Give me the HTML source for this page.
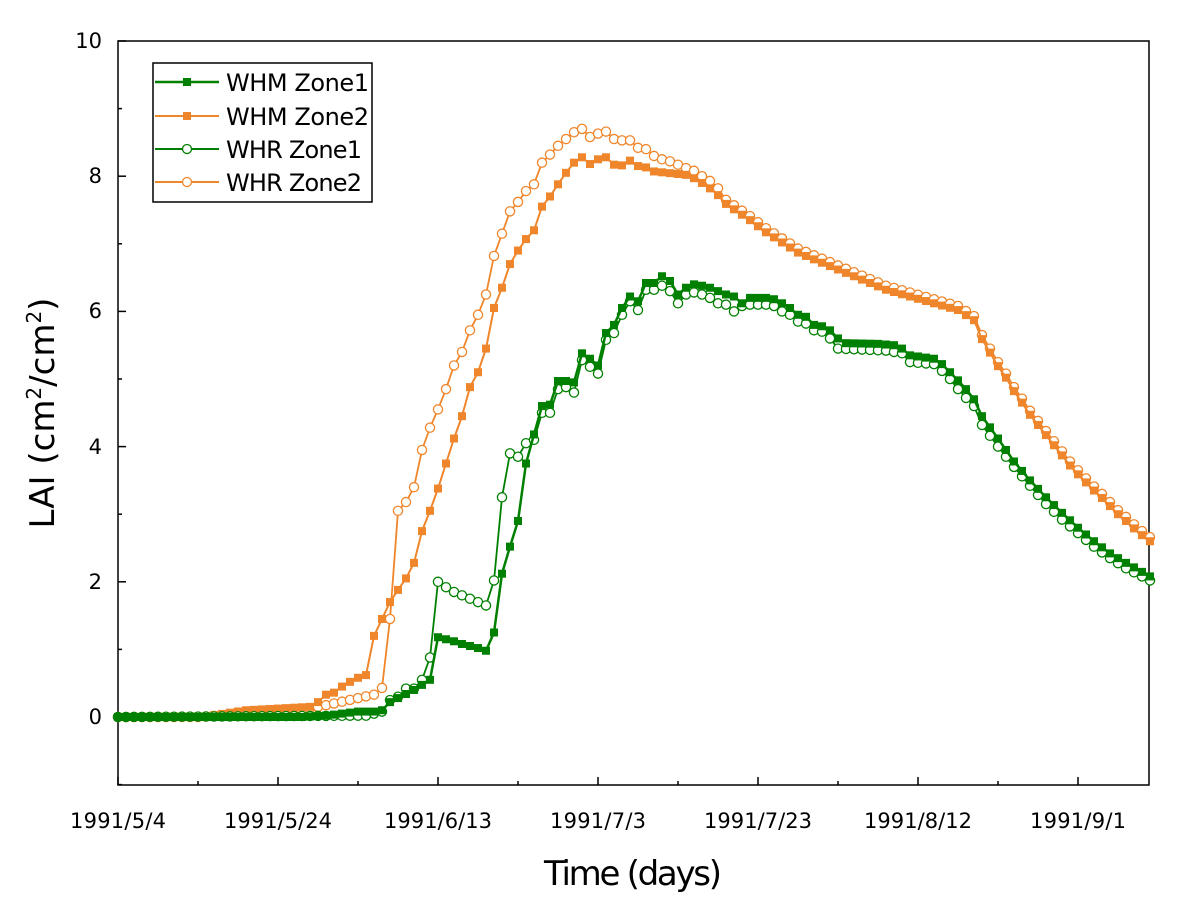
<!DOCTYPE html>
<html><head><meta charset="utf-8"><style>
body{margin:0;background:#fff}
svg text{font-family:"DejaVu Sans","Liberation Sans",sans-serif;fill:#000}
</style></head><body>
<svg id="s" width="1182" height="903" xmlns="http://www.w3.org/2000/svg">
<rect x="118" y="41" width="1031" height="744" fill="none" stroke="#000" stroke-width="1.5"/>
<g id="ticks" stroke="#000" stroke-width="1.5"></g>
<g font-size="21">
<text x="102" y="724" text-anchor="end">0</text>
<text x="102" y="589" text-anchor="end">2</text>
<text x="102" y="454" text-anchor="end">4</text>
<text x="102" y="318" text-anchor="end">6</text>
<text x="102" y="183" text-anchor="end">8</text>
<text x="102" y="48" text-anchor="end">10</text>
<text x="118" y="828" text-anchor="middle" textLength="96">1991/5/4</text>
<text x="278" y="828" text-anchor="middle" textLength="108">1991/5/24</text>
<text x="438" y="828" text-anchor="middle" textLength="108">1991/6/13</text>
<text x="598" y="828" text-anchor="middle" textLength="96">1991/7/3</text>
<text x="758" y="828" text-anchor="middle" textLength="108">1991/7/23</text>
<text x="918" y="828" text-anchor="middle" textLength="108">1991/8/12</text>
<text x="1078" y="828" text-anchor="middle" textLength="96">1991/9/1</text>
</g>
<text x="633" y="885" text-anchor="middle" font-size="34" textLength="178">Time (days)</text>
<text transform="translate(54,413) rotate(-90)" text-anchor="middle" font-size="34">LAI (cm<tspan font-size="20" dy="-13">2</tspan><tspan dy="13">/cm</tspan><tspan font-size="20" dy="-13">2</tspan><tspan dy="13">)</tspan></text>
<g id="plot"></g>
<rect x="153" y="63" width="219" height="139" fill="#fff" stroke="#000" stroke-width="1.5"/>
<line x1="155" y1="82" x2="219" y2="82" stroke="#008000" stroke-width="2.5"/><rect x="183" y="78" width="8" height="8" fill="#008000"/>
<line x1="155" y1="116" x2="219" y2="116" stroke="#f0862b" stroke-width="2"/><rect x="183" y="112" width="8" height="8" fill="#f0862b"/>
<line x1="155" y1="149" x2="219" y2="149" stroke="#008000" stroke-width="2"/><circle cx="187" cy="149" r="4.5" fill="#fff" stroke="#008000" stroke-width="1.3"/>
<line x1="155" y1="182" x2="219" y2="182" stroke="#f0862b" stroke-width="2"/><circle cx="187" cy="182" r="4.5" fill="#fff" stroke="#f0862b" stroke-width="1.3"/>
<g font-size="24">
<text x="226" y="91" textLength="143">WHM Zone1</text>
<text x="226" y="125" textLength="143">WHM Zone2</text>
<text x="226" y="158" textLength="136">WHR Zone1</text>
<text x="226" y="191" textLength="136">WHR Zone2</text>
</g>
</svg>
<script>
function X(d){return 118+8*d}function Y(v){return 717-67.6*v}
var t=document.getElementById("ticks"),h="";
for(var v=-1;v<=10;v++){var y=Y(v),L=(v%2==0)?8:4;h+='<line x1="118" y1="'+y+'" x2="'+(118+L)+'" y2="'+y+'"/>';}
for(var d=0;d<=128;d+=10){var x=X(d),L=(d%20==0)?8:4;h+='<line x1="'+x+'" y1="785" x2="'+x+'" y2="'+(785-L)+'"/>';}
t.innerHTML=h;
function sh(k,lo,hi){return k.map(function(p){return (p[0]>=lo&&p[0]<=hi)?[p[0]+1,p[1]]:p;});}
function interp(k){var o=[];for(var d=0;d<=129;d++){var i=0;while(i<k.length-2&&k[i+1][0]<=d)i++;var a=k[i],b=k[i+1];var f=(d-a[0])/(b[0]-a[0]);if(f<0)f=0;if(f>1)f=1;o.push(a[1]+(b[1]-a[1])*f);}return o;}
var decl2=[[76,7.62],[79,7.38],[81,7.2],[83,7.05],[85,6.9],[88,6.75],[91,6.6],[94,6.45],[96,6.35],[99,6.25],[102,6.15],[105,6.05],[107,5.9],[108,5.62],[109,5.42],[110,5.22],[111,5.05],[112,4.85],[113,4.68],[114,4.5],[115,4.35],[116,4.2],[117,4.05],[118,3.9],[119,3.75],[120,3.62],[121,3.5],[122,3.38],[123,3.27],[124,3.15],[125,3.03],[126,2.93],[127,2.82],[128,2.72],[129,2.63]];
var m2=sh([[0,0],[11,0.01],[16,0.1],[23,0.15],[24,0.22],[25,0.33],[26,0.36],[27,0.45],[28,0.52],[29,0.58],[30,0.62],[31,1.2],[32,1.45],[33,1.7],[34,1.88],[35,2.05],[36,2.28],[37,2.75],[38,3.05],[39,3.38],[40,3.75],[41,4.12],[42,4.45],[43,4.88],[44,5.1],[45,5.45],[46,6.05],[47,6.35],[48,6.7],[49,6.9],[50,7.07],[51,7.2],[52,7.55],[53,7.7],[54,7.88],[55,8.05],[56,8.2],[57,8.28],[58,8.18],[59,8.25],[60,8.28],[61,8.17],[62,8.16],[63,8.23],[64,8.15],[65,8.13],[66,8.07],[70,8.02],[71,7.97],[72,7.9],[73,7.82],[74,7.72]],20,74).concat(decl2.map(function(p){return [p[0],p[1]-0.03]}));
var r2=sh([[0,0],[10,0],[15,0.04],[22,0.1],[26,0.2],[29,0.28],[31,0.33],[32,0.43],[33,1.45],[34,3.05],[35,3.18],[36,3.4],[37,3.95],[38,4.28],[39,4.55],[40,4.85],[41,5.2],[42,5.4],[43,5.72],[44,5.95],[45,6.25],[46,6.82],[47,7.15],[48,7.48],[49,7.62],[50,7.78],[51,7.88],[52,8.2],[53,8.32],[54,8.45],[55,8.55],[56,8.65],[57,8.7],[58,8.58],[59,8.63],[60,8.66],[61,8.55],[62,8.53],[63,8.53],[64,8.42],[65,8.4],[66,8.3],[67,8.25],[68,8.22],[69,8.17],[70,8.12],[71,8.08],[72,8.0],[73,7.93],[74,7.82]],20,74).concat(decl2.map(function(p){return [p[0],p[1]+0.03]}));
var m1=sh([[0,0],[22,0],[25,0.02],[27,0.05],[29,0.08],[31,0.08],[32,0.1],[33,0.22],[34,0.28],[36,0.4],[38,0.55],[39,1.18],[40,1.15],[41,1.12],[42,1.08],[43,1.05],[44,1.02],[45,0.98],[46,1.25],[47,2.12],[48,2.52],[49,2.9],[50,3.75],[51,4.18],[52,4.6],[53,4.62],[54,4.97],[55,4.97],[56,4.95],[57,5.38],[58,5.3],[59,5.2],[60,5.68],[61,5.8],[62,6.05],[63,6.22],[64,6.15],[65,6.42],[66,6.42],[67,6.52],[68,6.45],[69,6.25],[70,6.35],[71,6.4],[72,6.38],[73,6.35],[74,6.3],[75,6.25],[76,6.22],[77,6.12],[78,6.2],[80,6.2],[81,6.18],[82,6.12],[83,6.05],[84,5.95],[85,5.92],[86,5.8],[87,5.78],[88,5.72]],20,88).concat([[90,5.6],[91,5.53],[95,5.52],[97,5.5],[98,5.45],[99,5.35],[102,5.3],[103,5.22],[104,5.1],[105,4.98],[106,4.85],[107,4.7],[108,4.45],[110,4.12],[112,3.78],[114,3.5],[116,3.25],[118,3.02],[120,2.8],[122,2.6],[124,2.42],[126,2.28],[129,2.08]]);
var r1=sh([[0,0],[30,0.02],[31,0.05],[32,0.08],[33,0.25],[34,0.3],[35,0.42],[36,0.42],[37,0.55],[38,0.88],[39,2.0],[40,1.92],[41,1.85],[42,1.8],[43,1.75],[44,1.7],[45,1.65],[46,2.02],[47,3.25],[48,3.9],[49,3.85],[50,4.05],[51,4.1],[52,4.5],[53,4.5],[54,4.85],[55,4.88],[56,4.8],[57,5.28],[58,5.18],[59,5.08],[60,5.58],[61,5.68],[62,5.95],[63,6.15],[64,6.02],[65,6.32],[66,6.32],[67,6.38],[68,6.3],[69,6.12],[70,6.25],[71,6.28],[72,6.25],[73,6.2],[74,6.12],[75,6.1],[76,6.0],[77,6.08],[78,6.1],[80,6.1],[81,6.08],[82,6.0],[83,5.95],[84,5.85],[85,5.82],[86,5.72],[87,5.7],[88,5.6]],20,88).concat([[90,5.45],[96,5.42],[98,5.38],[99,5.25],[102,5.22],[103,5.12],[104,5.0],[105,4.85],[106,4.72],[107,4.6],[108,4.32],[110,4.0],[112,3.7],[114,3.42],[116,3.15],[118,2.92],[120,2.72],[122,2.52],[124,2.35],[126,2.2],[129,2.02]]);
var plot=document.getElementById("plot"),s="";
function series(k,col,sq,w){var d=interp(k),p="";for(var i=0;i<d.length;i++)p+=(i?"L":"M")+X(i).toFixed(1)+","+Y(d[i]).toFixed(1);
s+='<path d="'+p+'" fill="none" stroke="'+col+'" stroke-width="'+w+'"/>';
for(var i=0;i<d.length;i++){var x=X(i),y=Y(d[i]);if(sq)s+='<rect x="'+(x-4)+'" y="'+(y-4)+'" width="8" height="8" fill="'+col+'"/>';else s+='<circle cx="'+x+'" cy="'+y+'" r="4.6" fill="#fff" stroke="'+col+'" stroke-width="1.3"/>';}}
series(r2,"#f0862b",false,1.8);
series(m2,"#f0862b",true,2);
series(r1,"#008000",false,1.8);
series(m1,"#008000",true,2.5);
plot.innerHTML=s;
</script>
</body></html>
